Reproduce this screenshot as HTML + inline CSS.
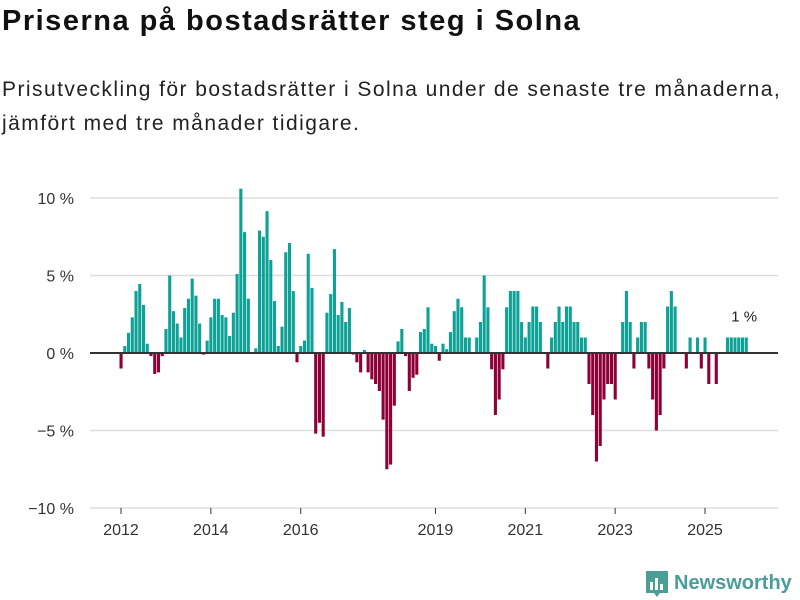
<!DOCTYPE html>
<html><head><meta charset="utf-8">
<style>
body{margin:0;background:#fff;width:800px;height:600px;overflow:hidden;font-family:"Liberation Sans",sans-serif;}
#title{position:absolute;left:2px;top:5px;font-size:29px;font-weight:bold;color:#111;margin:0;letter-spacing:1.5px;white-space:nowrap}
#sub{position:absolute;left:2px;top:73px;font-size:21px;color:#222;line-height:34px;width:800px;letter-spacing:1.45px;white-space:nowrap}
svg{position:absolute;left:0;top:0}
</style></head>
<body>
<h1 id="title">Priserna på bostadsrätter steg i Solna</h1>
<div id="sub">Prisutveckling för bostadsrätter i Solna under de senaste tre månaderna,<br>jämfört med tre månader tidigare.</div>
<svg id="chart" width="800" height="600"></svg>
<script>
const startYear = 2012;
const values = [-1.0,0.45,1.3,2.3,4.0,4.45,3.1,0.6,-0.2,-1.35,-1.25,-0.2,
1.55,5.0,2.7,1.9,1.0,2.9,3.5,4.8,3.7,1.9,-0.1,0.8,
2.3,3.5,3.5,2.45,2.3,1.1,2.6,5.1,10.6,7.8,3.5,0,
0.3,7.9,7.5,9.15,6.0,3.35,0.45,1.7,6.5,7.1,4.0,-0.6,
0.45,0.8,6.4,4.2,-5.2,-4.5,-5.4,2.6,3.8,6.7,2.45,3.3,
2.0,2.9,-0.1,-0.6,-1.25,0.2,-1.25,-1.7,-2.0,-2.45,-4.3,-7.5,
-7.2,-3.4,0.75,1.55,-0.2,-2.45,-1.6,-1.4,1.35,1.55,2.95,0.6,
0.45,-0.5,0.6,0.25,1.35,2.7,3.5,2.95,1.0,1.0,0,1.0,
2.0,5.0,2.95,-1.05,-4.0,-3.0,-1.05,2.95,4,4,4,2,
1,2,3,3,2,0,-1,1,2,3,2,3,
3,2,2,1,1,-2,-4,-7,-6,-3,-2,-2,
-3,0,2,4,2,-1,1,2,2,-1,-3,-5,
-4,-1,3,4,3,0,0,-1,1,0,1,-1,
1,-2,0,-2,0,0,1,1,1,1,1,1];
const yTicks = [10,5,0,-5,-10];
const yTickLabels = ["10 %","5 %","0 %","−5 %","−10 %"];
const xTickYears = [2012,2014,2016,2019,2021,2023,2025];
const lastLabel = "1 %";

const svg = document.getElementById('chart');
const NS = 'http://www.w3.org/2000/svg';
const x = m => 121 + m * (705 - 121) / 156;
const y = v => 353 - v * 15.5;
function mk(tag, attrs){const e=document.createElementNS(NS,tag);for(const k in attrs)e.setAttribute(k,attrs[k]);svg.appendChild(e);return e;}

yTicks.forEach((t,i)=>{
  if(t!==0){const g=mk('line',{x1:90,x2:778,y1:y(t),y2:y(t),stroke:'#dedede','stroke-width':1.5});
  
  }
  const l=mk('text',{x:74,y:y(t)+6,'text-anchor':'end','font-size':16,fill:'#333','font-family':'Liberation Sans, sans-serif'});
  l.textContent=yTickLabels[i];
  
  
});
xTickYears.forEach(yr=>{
  const xx=x((yr-startYear)*12);
  const t=mk('line',{x1:xx,x2:xx,y1:508,y2:514,stroke:'#333','stroke-width':1});
  
  
  const l=mk('text',{x:xx,y:535,'text-anchor':'middle','font-size':16,fill:'#333','font-family':'Liberation Sans, sans-serif'});
  l.textContent=yr;
  
  
});
values.forEach((v,i)=>{
  if(v===0)return;
  const xx=x(i);
  const r=mk('rect',{x:xx-1.5,width:3.1,y:Math.min(y(v),y(0)),height:Math.abs(y(v)-y(0)),fill:v>0?'#0ea296':'#8e0036'});
  
  
});
const z=mk('line',{x1:90,x2:778,y1:y(0),y2:y(0),stroke:'#333','stroke-width':2});


const ll=mk('text',{x:x(values.length-1)-2,y:y(values[values.length-1])-16,'text-anchor':'middle','font-size':15,fill:'#222','font-family':'Liberation Sans, sans-serif'});
ll.textContent=lastLabel;



const lg=mk('g',{});


const icon=document.createElementNS(NS,'path');
icon.setAttribute('d','M646 571 h22 v22 h-8 l-3 4 l-3 -4 h-8 z');
icon.setAttribute('fill','#4a9e95');
lg.appendChild(icon);
[[650,582,3,8],[655,578,3,12],[660,584,3,6]].forEach(b=>{const r=document.createElementNS(NS,'rect');r.setAttribute('x',b[0]);r.setAttribute('y',b[1]);r.setAttribute('width',b[2]);r.setAttribute('height',b[3]);r.setAttribute('fill','#fff');lg.appendChild(r);});
const lt=document.createElementNS(NS,'text');
lt.setAttribute('x',674);lt.setAttribute('y',589);lt.setAttribute('font-size',20);lt.setAttribute('font-weight','bold');lt.setAttribute('fill','#4a9e95');lt.setAttribute('font-family','Liberation Sans, sans-serif');
lt.textContent='Newsworthy';
lg.appendChild(lt);
</script>
</body></html>
